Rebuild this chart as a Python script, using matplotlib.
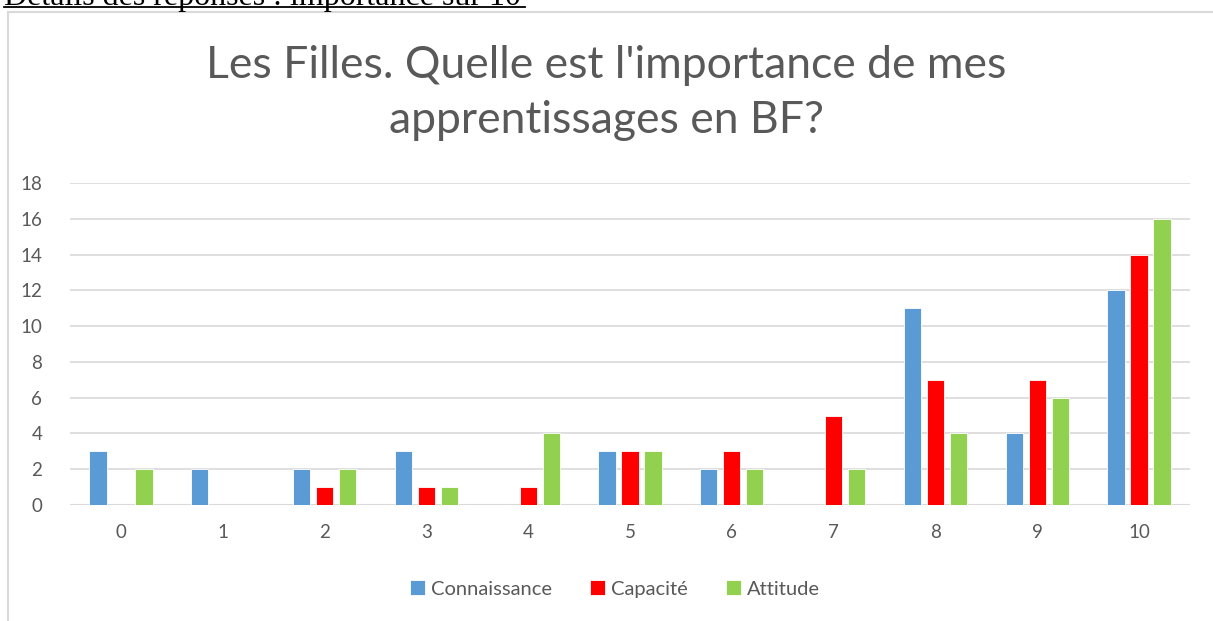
import numpy as np
import matplotlib.pyplot as plt
from matplotlib.patches import Rectangle

# Données
notes = ['0', '1', '2', '3', '4', '5', '6', '7', '8', '9', '10']
connaissance = [3, 2, 2, 3, 0, 3, 2, 0, 11, 4, 12]
capacite = [0, 0, 1, 1, 1, 3, 3, 5, 7, 7, 14]
attitude = [2, 0, 2, 1, 4, 3, 2, 2, 4, 6, 16]
series = ['Connaissance', 'Capacité', 'Attitude']
couleurs = ['#5b9bd5', '#ff0000', '#92d050']
y_ticks = [0, 2, 4, 6, 8, 10, 12, 14, 16, 18]

gris = '#595959'
plt.rcParams['font.family'] = ['Lato', 'DejaVu Sans']

fig = plt.figure(figsize=(12.13, 6.21), dpi=100)
ax = fig.add_axes([70 / 1213, 1 - 505 / 621, 1120 / 1213, 322 / 621])

x = np.arange(len(notes))
largeur = 0.17
decalage = 0.226
for i, (vals, nom, c) in enumerate(zip([connaissance, capacite, attitude], series, couleurs)):
    ax.bar(x + (i - 1) * decalage, vals, width=largeur, color=c, label=nom,
           edgecolor='white', linewidth=0.6, zorder=3)

ax.set_xlim(-0.5, len(notes) - 0.5)
ax.set_ylim(0, 18)
ax.set_yticks(y_ticks)
ax.set_xticks(x)
ax.set_xticklabels(notes)
ax.grid(axis='y', color='#d9d9d9', linewidth=1.2, zorder=0)
for s in ax.spines.values():
    s.set_visible(False)
ax.axhline(0, color='#d9d9d9', linewidth=1.5, zorder=2)
ax.tick_params(length=0, labelsize=13.5, labelcolor=gris)
ax.tick_params(axis='y', pad=20)
ax.tick_params(axis='x', pad=14)

fig.text(0.5, 1 - 93 / 621, "Les Filles. Quelle est l'importance de mes\napprentissages en BF?",
         ha='center', va='center', fontsize=32, color=gris, linespacing=1.4)

leg = fig.legend(loc='center', bbox_to_anchor=(0.507, 1 - 589 / 621), ncol=3, frameon=False,
                 fontsize=14.5, handlelength=0.75, handleheight=0.75, handletextpad=0.3,
                 columnspacing=1.9)
for t in leg.get_texts():
    t.set_color(gris)

# cadre du graphique
fig.patches.append(Rectangle((8 / 1213, -0.1), 1.2, 1 - 12 / 621 + 0.1, transform=fig.transFigure,
                             fill=False, edgecolor='#d9d9d9', linewidth=1.5))

# en-tête du document, coupé en haut comme sur l'original
fig.text(4 / 1213, 1 - 5 / 621, 'Détails des réponses : importance sur 10', ha='left', va='baseline',
         fontsize=23, family='Liberation Serif', color='black')
fig.add_artist(plt.Line2D([4 / 1213, 525 / 1213], [1 - 7 / 621, 1 - 7 / 621],
                          transform=fig.transFigure, color='black', linewidth=1.3))

fig.savefig('out.png', dpi=100)
